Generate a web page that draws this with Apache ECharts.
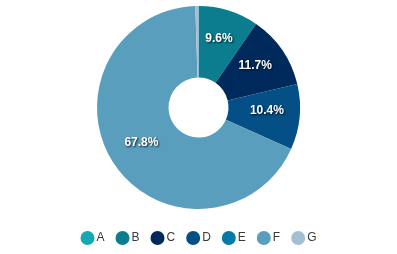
<!DOCTYPE html>
<html>
<head>
<meta charset="utf-8">
<script src="https://cdn.jsdelivr.net/npm/echarts@6/dist/echarts.min.js"></script>
<style>html,body{margin:0;padding:0;background:#fff}#c{width:397px;height:254px}</style>
</head>
<body>
<div id="c"></div>
<script>
var categories = ['A', 'B', 'C', 'D', 'E', 'F', 'G'];
var values = [0, 9.6, 11.7, 10.4, 0, 67.8, 0.5];
var colors = ['#13a8b3', '#0b7d8f', '#002a5c', '#034f86', '#0579a8', '#5a9ebe', '#a3c0d3'];

var chart = echarts.init(document.getElementById('c'), null, {renderer: 'canvas'});
chart.setOption({
  animation: false,
  color: colors,
  legend: {
    top: 226,
    left: 'center',
    icon: 'circle',
    itemWidth: 14,
    itemHeight: 14,
    itemGap: 11,
    textStyle: {fontFamily: 'Liberation Sans, Arial, sans-serif', fontSize: 12, color: '#3a3a3a', padding: [0, 0, 0, -3]},
    data: categories
  },
  series: [{
    type: 'pie',
    center: ['50%', 107.5],
    radius: [30, 101.5],
    startAngle: 90,
    clockwise: true,
    avoidLabelOverlap: false,
    itemStyle: {borderWidth: 0},
    label: {
      show: true,
      position: 'inside',
      offset: [0, -3],
      formatter: function (p) { return p.value >= 1 ? p.value.toFixed(1) + '%' : ''; },
      color: '#fff',
      fontWeight: 'bold',
      fontSize: 12,
      fontFamily: 'Liberation Sans, Arial, sans-serif',
      textShadowColor: 'rgba(0,0,0,0.8)',
      textShadowBlur: 2,
      textShadowOffsetX: 1,
      textShadowOffsetY: 1
    },
    labelLine: {show: false},
    emphasis: {disabled: true},
    data: categories.map(function (c, i) { return {name: c, value: values[i]}; })
  }]
});
</script>
</body>
</html>
